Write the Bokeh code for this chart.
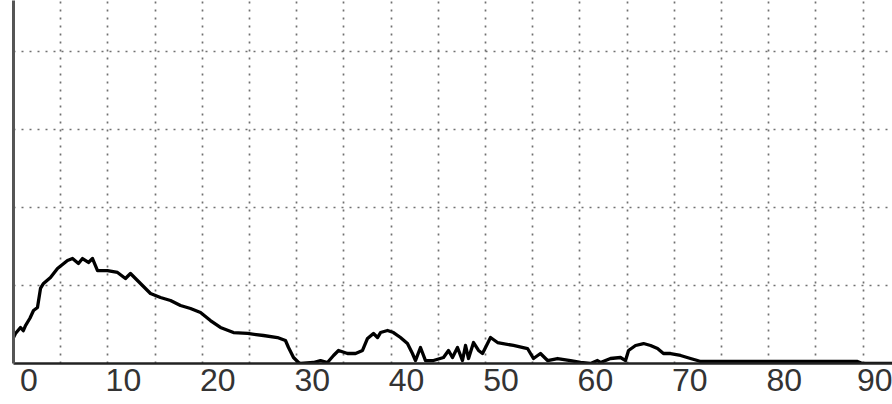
from bokeh.plotting import figure
from bokeh.models import Range1d, FixedTicker, Grid
from bokeh.embed import file_html
from bokeh.resources import INLINE

# ---- data ----
curve_x = [-1.64, -1.43, -0.90, -0.60, -0.37, 0.10, 0.48, 0.90, 1.22, 1.54, 2.28, 3.02, 4.08, 4.61,
           5.24, 5.67, 6.30, 6.73, 7.26, 8.32, 9.38, 10.22, 10.75, 11.81, 12.87, 13.93, 14.99,
           16.05, 17.11, 18.17, 19.22, 20.28, 21.66, 23.15, 24.84, 26.32, 27.17, 27.49, 28.02,
           28.55, 28.76, 30.14, 30.88, 31.62, 32.26, 32.79, 33.74, 34.59, 35.33, 35.86, 36.49,
           36.92, 37.24, 37.98, 38.61, 39.35, 40.09, 40.62, 40.94, 41.47, 42.00, 42.85, 43.91,
           44.44, 44.86, 45.39, 45.92, 46.24, 46.56, 47.09, 47.62, 48.04, 48.36, 48.89, 49.63,
           51.32, 52.81, 53.44, 54.18, 54.93, 55.99, 57.36, 58.42, 59.48, 60.22, 60.54, 61.60,
           62.66, 63.19, 63.51, 64.25, 65.10, 65.84, 66.58, 67.21, 67.96, 69.02, 70.07, 70.81,
           71.13, 87.76, 88.29, 91.47]
curve_y = [0.333, 0.385, 0.462, 0.420, 0.487, 0.580, 0.679, 0.718, 0.962, 1.026, 1.103, 1.218,
           1.321, 1.346, 1.282, 1.346, 1.295, 1.346, 1.192, 1.192, 1.167, 1.090, 1.154, 1.026,
           0.897, 0.846, 0.808, 0.744, 0.705, 0.654, 0.551, 0.462, 0.397, 0.385, 0.359, 0.333,
           0.295, 0.205, 0.077, 0.013, 0.000, 0.013, 0.038, 0.013, 0.103, 0.167, 0.128, 0.128,
           0.167, 0.321, 0.385, 0.333, 0.397, 0.423, 0.397, 0.333, 0.256, 0.128, 0.038, 0.205,
           0.038, 0.038, 0.077, 0.167, 0.077, 0.205, 0.038, 0.231, 0.064, 0.269, 0.167, 0.128,
           0.205, 0.333, 0.269, 0.231, 0.192, 0.064, 0.128, 0.038, 0.064, 0.038, 0.013, 0.000,
           0.038, 0.013, 0.064, 0.077, 0.038, 0.167, 0.231, 0.256, 0.231, 0.192, 0.128, 0.128,
           0.103, 0.064, 0.038, 0.026, 0.026, 0.000, 0.000]

x_ticks = [0, 10, 20, 30, 40, 50, 60, 70, 80, 90]
x_grid = [3.36, 8.36, 13.36, 18.36, 23.36, 28.36, 33.36, 38.36, 43.36, 48.36, 53.36,
          58.36, 63.36, 68.36, 73.36, 78.36, 83.36, 88.36]
y_grid = [1, 2, 3, 4]

p = figure(width=892, height=400, output_backend="svg", toolbar_location=None,
           x_range=Range1d(-1.64, 91.47), y_range=Range1d(0, 4.654),
           min_border_left=13, min_border_right=0, min_border_top=0, min_border_bottom=37)
p.outline_line_color = None
p.background_fill_color = "white"
p.border_fill_color = "white"

p.xgrid.visible = False
p.ygrid.visible = False
p.add_layout(Grid(dimension=0, ticker=FixedTicker(ticks=x_grid), grid_line_color="#707070",
                  grid_line_dash="2 6", grid_line_width=1.7))
p.add_layout(Grid(dimension=1, ticker=FixedTicker(ticks=y_grid), grid_line_color="#707070",
                  grid_line_dash="2 6", grid_line_width=1.7))

p.line(curve_x, curve_y, line_color="black", line_width=3.3, line_join="round")

xa = p.xaxis[0]
xa.ticker = FixedTicker(ticks=x_ticks)
xa.axis_line_color = "#222222"
xa.axis_line_width = 2.5
xa.major_tick_out = 0
xa.major_tick_in = 0
xa.minor_tick_out = 0
xa.minor_tick_in = 0
xa.major_label_standoff = 5
xa.major_label_text_font = "Liberation Sans"
xa.major_label_text_font_size = "32px"
xa.major_label_text_color = "#333333"

ya = p.yaxis[0]
ya.ticker = FixedTicker(ticks=[])
ya.axis_line_color = "#555555"
ya.axis_line_width = 3
ya.major_tick_out = 0
ya.major_tick_in = 0
ya.minor_tick_out = 0
ya.minor_tick_in = 0
ya.major_label_standoff = 0

open("out.html", "w").write(file_html(p, INLINE))
